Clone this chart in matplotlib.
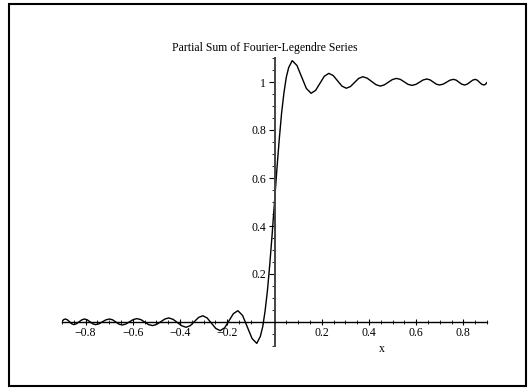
import matplotlib
matplotlib.use('Agg')
import matplotlib.pyplot as plt
from matplotlib.patches import Rectangle
from matplotlib.ticker import MultipleLocator, FixedLocator, FixedFormatter

plt.rcParams['font.family'] = ['Liberation Serif', 'DejaVu Serif']

# curve, left half then right half
x_left = [-0.9, -0.893, -0.886, -0.877, -0.868, -0.859, -0.850, -0.839, -0.8275, -0.816,
          -0.805, -0.793, -0.7815, -0.770, -0.758, -0.743, -0.7285, -0.714, -0.699, -0.6855,
          -0.672, -0.6585, -0.645, -0.6295, -0.614, -0.5985, -0.583, -0.566, -0.5495, -0.533,
          -0.516, -0.499, -0.482, -0.465, -0.448, -0.4295, -0.411, -0.3925, -0.374, -0.3565,
          -0.339, -0.3215, -0.304, -0.2855, -0.267, -0.2485, -0.23, -0.211, -0.1925, -0.174,
          -0.155, -0.135, -0.115, -0.095, -0.075, -0.06, -0.05, -0.04, -0.03, -0.02, -0.01]
y_left = [0.002, 0.010, 0.0125, 0.009, 0.001, -0.0075, -0.011, -0.0075, 0.001, 0.009,
          0.0125, 0.009, 0.001, -0.0075, -0.011, -0.0075, 0.001, 0.009, 0.0125, 0.009,
          0.0, -0.009, -0.0125, -0.0085, 0.001, 0.010, 0.014, 0.010, -0.0005, -0.011,
          -0.015, -0.010, 0.001, 0.012, 0.017, 0.011, -0.0025, -0.016, -0.022, -0.015,
          0.002, 0.019, 0.026, 0.017, -0.005, -0.027, -0.036, -0.024, 0.0055, 0.035,
          0.047, 0.027, -0.021, -0.069, -0.089, -0.06, -0.02, 0.045, 0.13, 0.24, 0.365]

x_right = [0.0, 0.01, 0.02, 0.03, 0.04, 0.05, 0.06, 0.075, 0.095, 0.115,
           0.135, 0.155, 0.174, 0.1925, 0.211, 0.23, 0.2485, 0.267, 0.2855, 0.304,
           0.3215, 0.339, 0.3565, 0.374, 0.3925, 0.411, 0.4295, 0.448, 0.465, 0.482,
           0.499, 0.516, 0.533, 0.5495, 0.566, 0.583, 0.5985, 0.614, 0.6295, 0.645,
           0.6585, 0.672, 0.6855, 0.699, 0.714, 0.7285, 0.743, 0.758, 0.770, 0.7815,
           0.793, 0.805, 0.816, 0.8275, 0.839, 0.850, 0.859, 0.868, 0.877, 0.886,
           0.893, 0.9]
y_right = [0.5, 0.635, 0.76, 0.87, 0.955, 1.02, 1.06, 1.089, 1.069, 1.021,
           0.973, 0.953, 0.965, 0.9945, 1.024, 1.036, 1.027, 1.005, 0.983, 0.974,
           0.981, 0.998, 1.015, 1.022, 1.016, 1.0025, 0.989, 0.983, 0.988, 0.999,
           1.010, 1.015, 1.011, 1.0005, 0.990, 0.986, 0.990, 0.999, 1.0085, 1.0125,
           1.009, 1.000, 0.991, 0.9875, 0.991, 0.999, 1.0075, 1.011, 1.0075, 0.999,
           0.991, 0.9875, 0.991, 0.999, 1.0075, 1.011, 1.0075, 0.999, 0.991, 0.9875,
           0.990, 0.998]

xticks = [-0.8, -0.6, -0.4, -0.2, 0.2, 0.4, 0.6, 0.8]
xtick_labels = ['\u22120.8', '\u22120.6', '\u22120.4', '\u22120.2', '0.2', '0.4', '0.6', '0.8']
yticks = [0.2, 0.4, 0.6, 0.8, 1.0]
ytick_labels = ['0.2', '0.4', '0.6', '0.8', '1']

fig = plt.figure(figsize=(5.3, 3.88), dpi=100)
ax = fig.add_axes([62 / 530, 1 - 346 / 388, 425 / 530, 288 / 388])

ax.plot(x_left + x_right, y_left + y_right, color='black', lw=1.0)

ax.set_xlim(-0.9, 0.9)
ax.set_ylim(-0.1, 1.1)

for s in ['top', 'right']:
    ax.spines[s].set_visible(False)
ax.spines['left'].set_position(('data', 0))
ax.spines['bottom'].set_position(('data', 0))
ax.spines['left'].set_color('#444444')
ax.spines['left'].set_linewidth(1.4)
ax.spines['bottom'].set_color('black')
ax.spines['bottom'].set_linewidth(1.0)

ax.xaxis.set_major_locator(FixedLocator(xticks))
ax.xaxis.set_major_formatter(FixedFormatter(xtick_labels))
ax.xaxis.set_minor_locator(MultipleLocator(0.05))
ax.yaxis.set_major_locator(FixedLocator(yticks))
ax.yaxis.set_major_formatter(FixedFormatter(ytick_labels))
ax.yaxis.set_minor_locator(MultipleLocator(0.05))

ax.tick_params(axis='x', which='major', direction='inout', length=5, width=0.8, labelsize=8.5, pad=1)
ax.tick_params(axis='x', which='minor', direction='inout', length=2.5, width=0.6)
ax.tick_params(axis='y', which='major', direction='out', length=4, width=0.8, labelsize=8.5, pad=2)
ax.tick_params(axis='y', which='minor', direction='out', length=2.5, width=0.6)

fig.text(0.5, 1 - 48 / 388, 'Partial Sum of Fourier-Legendre Series', ha='center', va='center', fontsize=8.5)
fig.text(382 / 530, 1 - 349 / 388, 'x', ha='center', va='center', fontsize=8.5)

# frame around the whole picture
fig.patches.append(Rectangle((9 / 530, 2 / 388), 517 / 530, 382 / 388, transform=fig.transFigure,
                             fill=False, edgecolor='black', lw=1.5))

fig.savefig('out.png', dpi=100)
